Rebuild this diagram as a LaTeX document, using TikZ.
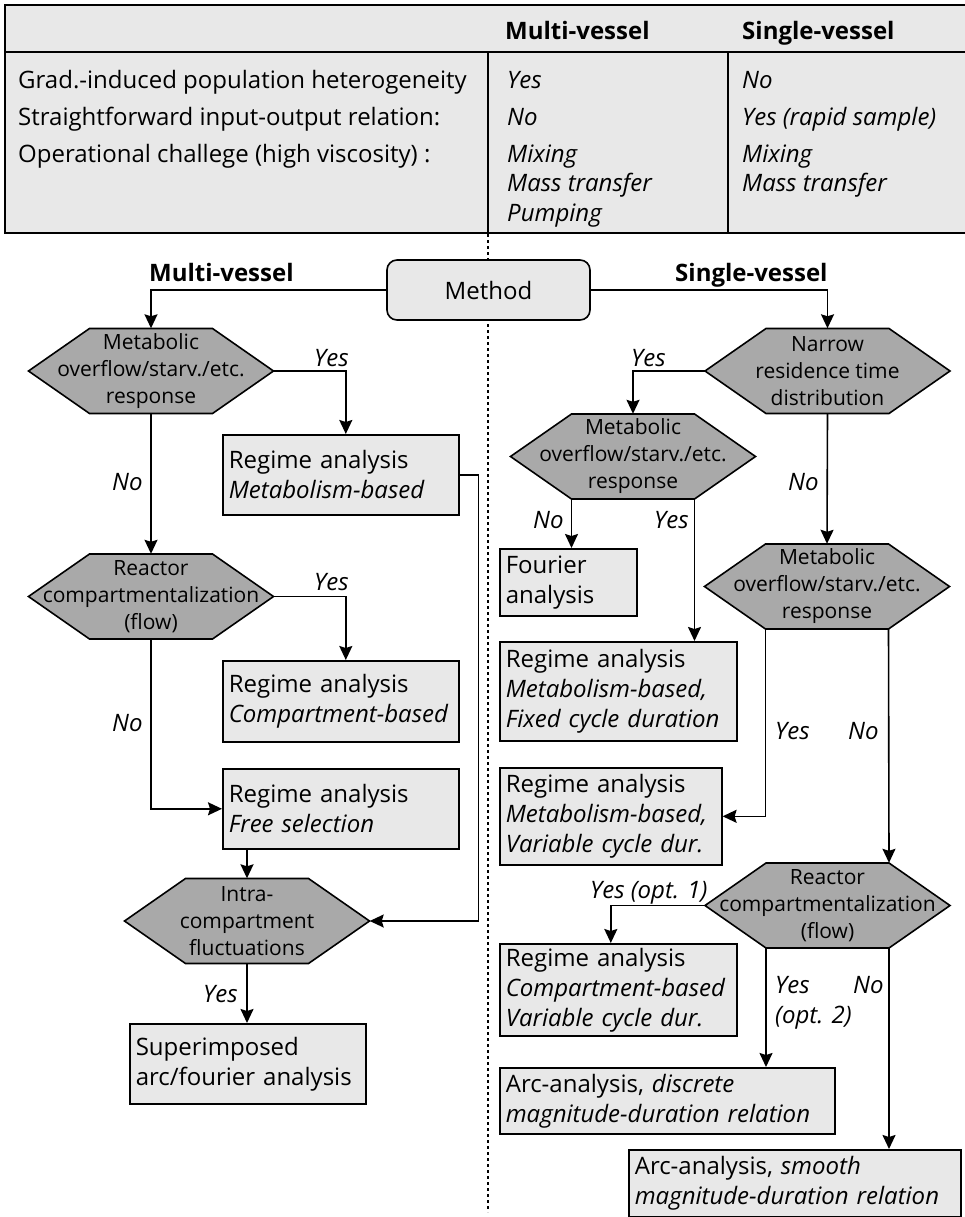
\documentclass[tikz,border=0pt]{standalone}
\usepackage{fontspec}
\setmainfont{Open Sans}
\usetikzlibrary{arrows.meta}
\definecolor{boxgray}{HTML}{E8E8E8}
\definecolor{hexgray}{HTML}{A9A9A9}
\tikzset{
  lw/.style={line width=1.6pt},
  box/.style={draw, fill=boxgray, lw, anchor=north west, align=left, inner xsep=6pt, inner ysep=0pt, font=\fontsize{24}{30}\selectfont},
  hexlab/.style={minimum width=245pt, minimum height=85pt, inner sep=0pt, align=center, font=\fontsize{21}{27}\selectfont},
  hexfill/.style={draw, fill=hexgray, lw, line join=miter},
  lab/.style={font=\fontsize{24}{30}\selectfont\itshape, inner sep=0pt, anchor=base west, align=left},
  tabtxt/.style={font=\fontsize{24}{30}\selectfont, inner sep=0pt, anchor=base west},
  tabit/.style={font=\fontsize{24}{30}\selectfont\itshape, inner sep=0pt, anchor=base west},
  head/.style={font=\fontsize{24}{30}\selectfont\bfseries, inner sep=0pt, anchor=base west},
  arr/.style={lw, -{Stealth[length=14pt,width=13pt,inset=2pt]}},
}
\newcommand\hexnode[4]{%
  \filldraw[hexfill] (#2-122.5,#3) -- (#2-61.5,#3-42.5) -- (#2+61.5,#3-42.5) -- (#2+122.5,#3) -- (#2+61.5,#3+42.5) -- (#2-61.5,#3+42.5) -- cycle;
  \node[hexlab] (#1) at (#2,#3) {#4};
}
\begin{document}
\begin{tikzpicture}[x=1pt,y=-1pt]
\useasboundingbox (0,0) rectangle (965,1217);
% table
\draw[lw, fill=boxgray] (5,5) rectangle (968,233);
\draw[lw] (5,52) -- (968,52);
\draw[lw] (488,52) -- (488,233);
\draw[lw] (728,52) -- (728,233);
\node[head] (th1) at (505,40) {Multi-vessel};
\node[head] (th2) at (742,40) {Single-vessel};
\node[tabtxt] (r1) at (18,88.5) {Grad.-induced population heterogeneity};
\node[tabtxt] (r2) at (18,126) {Straightforward input-output relation:};
\node[tabtxt] (r3) at (18,162.5) {Operational challege (high viscosity) :};
\node[tabit] (m1) at (507,88.5) {Yes};
\node[tabit] (m2) at (507,126) {No};
\node[tabit] (m3) at (507,162.5) {Mixing};
\node[tabit] (m4) at (507,192) {Mass transfer};
\node[tabit] (m5) at (507,221) {Pumping};
\node[tabit] (s1) at (742,88.5) {No};
\node[tabit] (s2) at (742,126) {Yes (rapid sample)};
\node[tabit] (s3) at (742,162.5) {Mixing};
\node[tabit] (s4) at (742,192) {Mass transfer};
% divider
\coordinate (dtop) at (488,234);
\coordinate (dbot) at (488,1212);
\draw[line width=1.3pt, dash pattern=on 3pt off 3pt] (dtop) -- (dbot);
% method
\node[draw, fill=boxgray, lw, rounded corners=10pt, minimum width=203pt, minimum height=60pt, font=\fontsize{24}{30}\selectfont] (m) at (488.5,290) {Method};
\node[head] (lmv) at (149,281.5) {Multi-vessel};
\node[head] (lsv) at (675,281.5) {Single-vessel};
% left branch
\hexnode{h1}{151}{371}{Metabolic\\overflow/starv./etc.\\response}
\hexnode{h2}{151}{596.5}{Reactor\\compartmentalization\\(flow)}
\hexnode{h3}{247}{921}{Intra-\\compartment\\fluctuations}
\node[box, text width=224pt, minimum height=80pt] (b1) at (222,434) {Regime analysis\\\textit{Metabolism-based}};
\node[box, text width=224pt, minimum height=81pt] (b2) at (222,660) {Regime analysis\\\textit{Compartment-based}};
\node[box, text width=224pt, minimum height=80pt] (b3) at (222,768) {Regime analysis\\\textit{Free selection}};
\node[box, text width=224pt, minimum height=80pt] (b4) at (129,1023) {Superimposed\\arc/fourier analysis};
% right branch
\hexnode{h4}{827.5}{371}{Narrow\\residence time\\distribution}
\hexnode{h5}{633}{456.5}{Metabolic\\overflow/starv./etc.\\response}
\hexnode{h6}{827}{586.5}{Metabolic\\overflow/starv./etc.\\response}
\hexnode{h7}{827.5}{905.5}{Reactor\\compartmentalization\\(flow)}
\node[box, text width=125pt, minimum height=67pt] (fou) at (499,548) {Fourier\\analysis};
\node[box, text width=225pt, minimum height=99pt] (b5) at (499,641) {Regime analysis\\\textit{Metabolism-based,}\\\textit{Fixed cycle duration}};
\node[box, text width=210pt, minimum height=97pt] (b6) at (499,767) {Regime analysis\\\textit{Metabolism-based,}\\\textit{Variable cycle dur.}};
\node[box, text width=225pt, minimum height=92pt] (b7) at (499,943) {Regime analysis\\\textit{Compartment-based}\\\textit{Variable cycle dur.}};
\node[box, text width=323pt, minimum height=66pt] (b8) at (499,1067) {Arc-analysis, \textit{discrete}\\\textit{magnitude-duration relation}};
\node[box, text width=320pt, minimum height=67pt] (b9) at (628,1149) {Arc-analysis, \textit{smooth}\\\textit{magnitude-duration relation}};
% connectors left
\draw[arr] (m.west) -| (h1.north);
\draw[arr] (h1.east) -| ([xshift=5pt]b1.north);
\draw[arr] (h1.south) -- (h2.north);
\draw[arr] (h2.east) -| ([xshift=5pt]b2.north);
\draw[arr] (h2.south) |- (b3.west);
\draw[arr] (b3.south -| h3.north) -- (h3.north);
\draw[arr] (b1.east) -- ++(19,0) |- (h3.east);
\draw[arr] (h3.south) -- (h3.south |- b4.north);
% connectors right
\draw[arr] (m.east) -| (h4.north);
\draw[arr] (h4.west) -| (h5.north);
\draw[arr] (h4.south) -- (h6.north);
\draw[arr] ([xshift=-61.5pt]h5.south) -- ([xshift=-61.5pt]h5.south |- fou.north);
\draw[arr] ([xshift=61.5pt]h5.south) -- ([xshift=61.5pt]h5.south |- b5.north);
\draw[arr] ([xshift=-61.5pt]h6.south) |- (b6.east);
\draw[arr] ([xshift=61.5pt]h6.south) -- ([xshift=61.5pt]h7.north);
\draw[arr] (h7.west) -| ([xshift=-7.5pt]b7.north);
\draw[arr] ([xshift=-61.5pt]h7.south) -- ([xshift=-61.5pt]h7.south |- b8.north);
\draw[arr] ([xshift=61.5pt]h7.south) -- ([xshift=61.5pt]h7.south |- b9.north);
% labels
\node[lab] (y1) at (314,366.5) {Yes};
\node[lab] (n1) at (112,490) {No};
\node[lab] (y2) at (314,590.5) {Yes};
\node[lab] (n2) at (112,731.5) {No};
\node[lab] (y3) at (203,1002.5) {Yes};
\node[lab] (y4) at (631,366.5) {Yes};
\node[lab] (n4) at (788,490) {No};
\node[lab] (n5) at (533,528.5) {No};
\node[lab] (y5) at (654,528.5) {Yes};
\node[lab] (y6) at (775,739.5) {Yes};
\node[lab] (n6) at (848,739.5) {No};
\node[lab] (y7) at (590,898.5) {Yes (opt. 1)};
\node[lab] (y8) at (775,1023.5) {Yes\\(opt. 2)};
\node[lab] (n7) at (853,993.5) {No};
\end{tikzpicture}
\end{document}
